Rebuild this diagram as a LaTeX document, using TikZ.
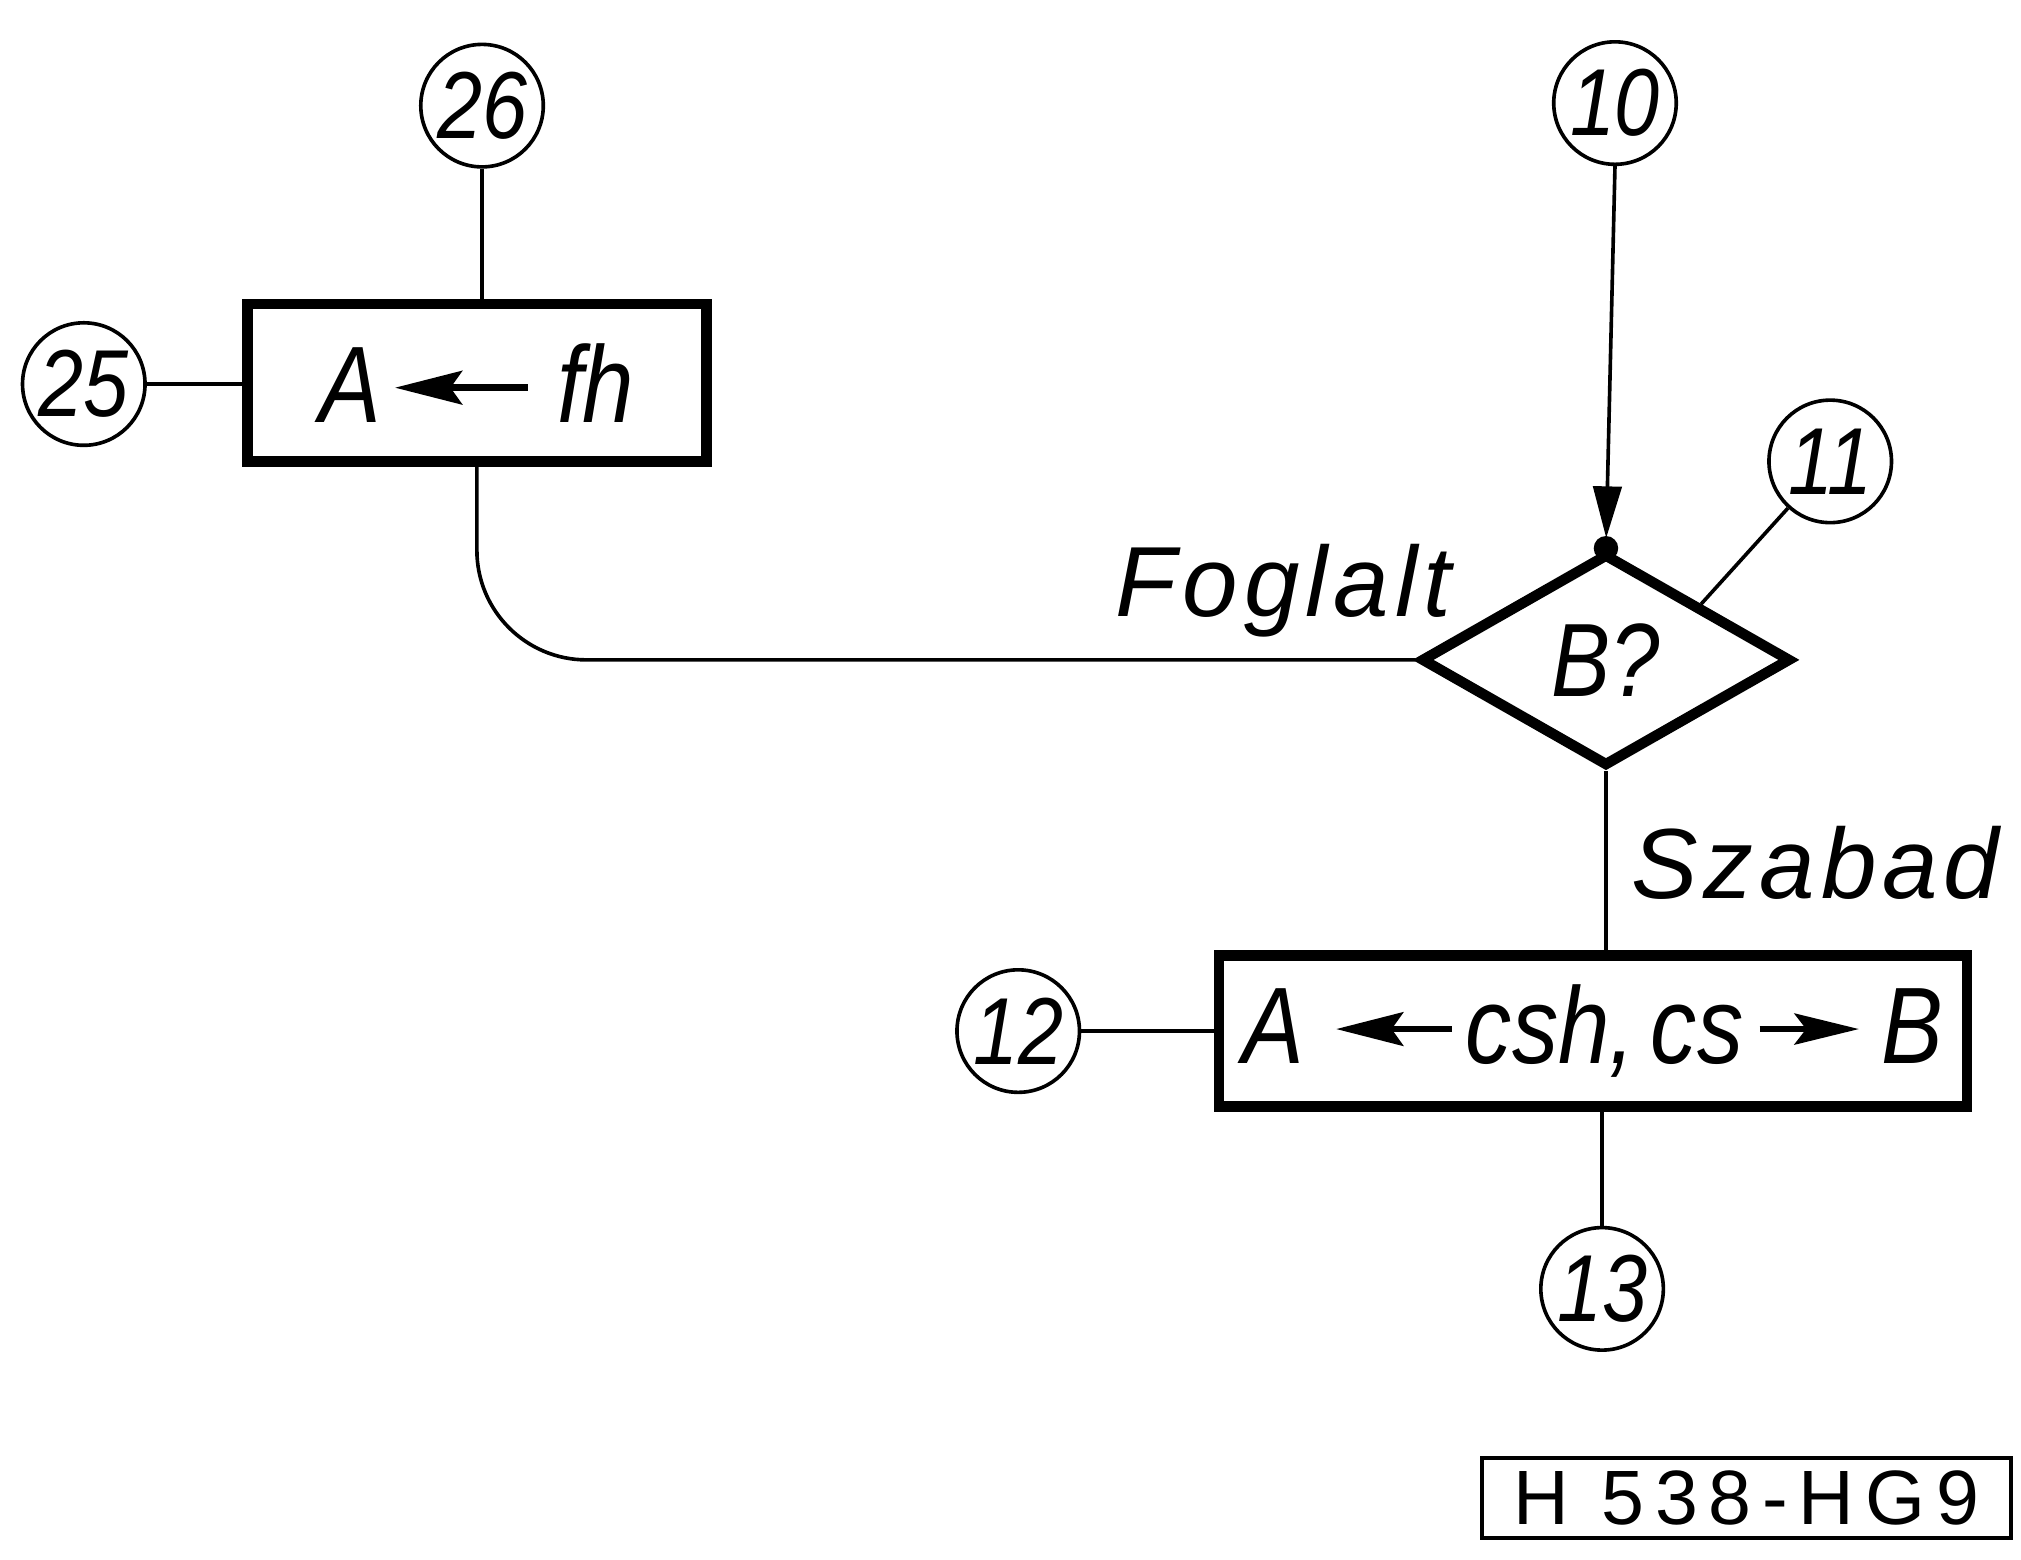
\documentclass[tikz,border=0pt]{standalone}
\usepackage{fontspec}
\setmainfont{Liberation Sans}
\newfontfamily\lett{Liberation Sans}[FakeStretch=0.85]
\usetikzlibrary{shapes.geometric,arrows.meta}
\tikzset{
  txtarrow/.style={line width=1.5pt},
  num/.style={circle,draw,line width=0.8pt,minimum size=0.95cm,inner sep=0pt,
    font=\lett\fontsize{21}{21}\selectfont\itshape},
  proc/.style={rectangle,draw,line width=2.3pt,inner sep=0pt,
    font=\lett\fontsize{24}{24}\selectfont\itshape},
  dec/.style={diamond,draw,line width=2.3pt,inner sep=0pt,
    minimum width=2.87cm,minimum height=1.65cm,
    font=\lett\fontsize{23}{23}\selectfont\itshape},
  conn/.style={line width=0.8pt},
  lbl/.style={inner sep=0pt,anchor=base west,
    font=\fontsize{22}{22}\selectfont\itshape\addfontfeature{LetterSpace=6}},
  tag/.style={rectangle,draw,line width=0.9pt,inner sep=0pt,
    minimum width=4.10cm,minimum height=0.62cm,
    font=\fontsize{17}{17}\selectfont\addfontfeature{LetterSpace=14}},
}
\newcommand{\leftarr}[1]{\tikz[baseline=-0.6ex]\draw[txtarrow,{Stealth[length=0.52cm,width=0.26cm,inset=0.09cm]}-] (0,0)--(#1,0);}
\newcommand{\rightarr}[1]{\tikz[baseline=-0.6ex]\draw[txtarrow,-{Stealth[length=0.5cm,width=0.24cm,inset=0.09cm]}] (0,0)--(#1,0);}
\begin{document}
\begin{tikzpicture}[x=0.01cm,y=0.01cm]
\useasboundingbox (0,0) rectangle (1568,1210);
% nodes
\node[num] (n26) at (374,1128) {26};
\node[num] (n25) at (65,912) {25};
\node[proc,minimum width=3.56cm,minimum height=1.22cm] (box1) at (370,913)
  {A\hspace{0.08cm}\leftarr{1.03cm}\hspace{0.2cm}fh};
\node[num] (n10) at (1253,1130) {10};
\node[dec] (dia) at (1246,698) {B?};
\node[num] (n11) at (1420,852) {11};
\node[proc,minimum width=5.80cm,minimum height=1.17cm] (box2) at (1236,410)
  {A\hspace{0.22cm}\leftarr{0.9cm}\hspace{0.08cm}csh,\hspace{0.12cm}cs\hspace{0.1cm}\rightarr{0.77cm}\hspace{0.15cm}B};
\node[num] (n12) at (790,410) {12};
\node[num] (n13) at (1243,210) {13};
\node[tag] (tag) at (1355,48) {H 538-HG9};
\node[lbl] (fog) at (865,732) {Foglalt};
\node[lbl] (sza) at (1265,513) {Szabad};
% connectors
\draw[conn] (n26.south) -- (n26.south |- box1.north);
\draw[conn] (n25.east) -- (n25.east -| box1.west);
\draw[conn,rounded corners=0.85cm] (box1.south) |- (dia.west);
\draw[conn,-{Triangle[length=0.4cm,width=0.22cm]},shorten >=0.08cm] (n10.south) -- (dia.north);
\fill (dia.north) circle (0.095cm);
\draw[conn] (n11) -- (dia.north east);
\draw[conn] (dia.south) -- (dia.south |- box2.north);
\draw[conn] (n12.east) -- (n12.east -| box2.west);
\draw[conn] (n13.north) -- (n13.north |- box2.south);
\end{tikzpicture}
\end{document}
